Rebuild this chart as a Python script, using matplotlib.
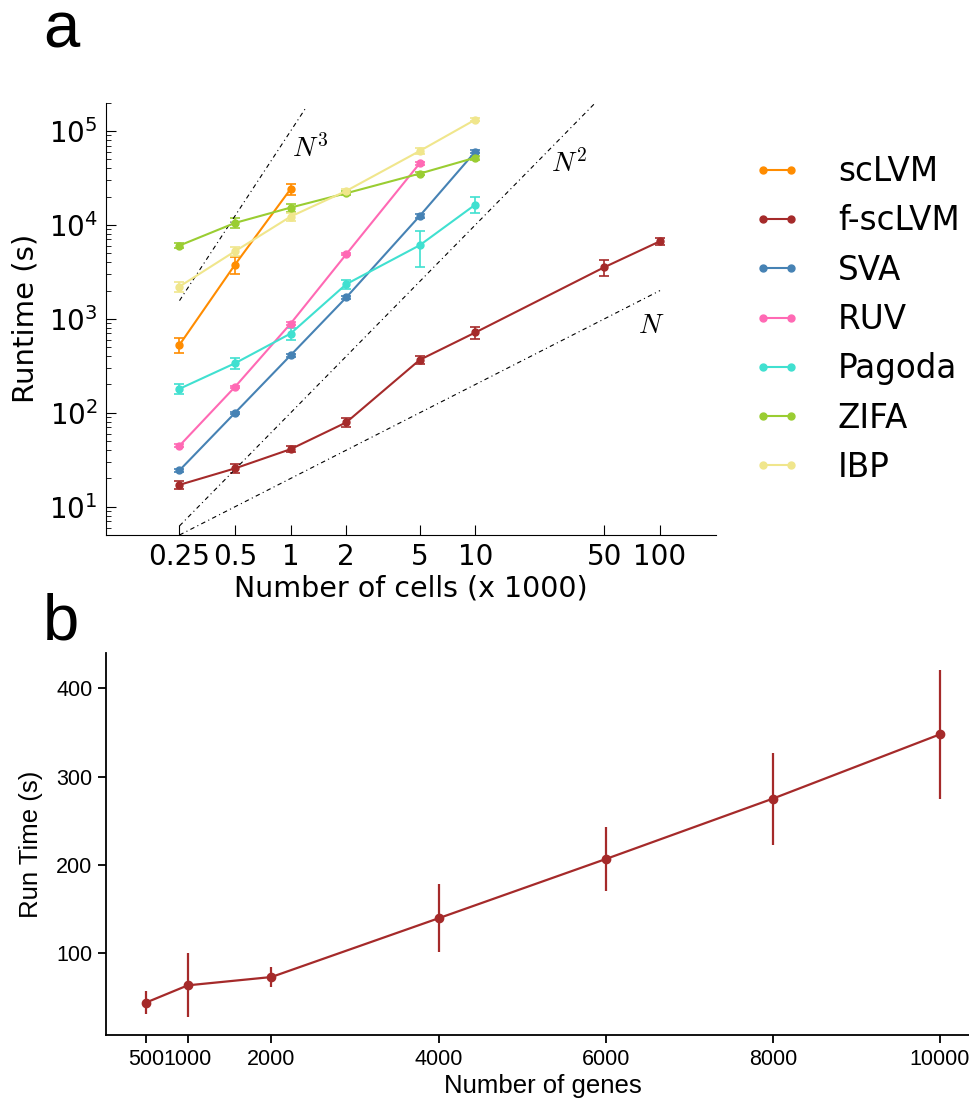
import numpy as np
import matplotlib
matplotlib.use("Agg")
from matplotlib import pyplot as plt
from matplotlib.lines import Line2D

# panel a: runtime vs number of cells (x 1000)
cells = [0.25, 0.5, 1, 2, 5, 10, 50, 100]
methods = ['scLVM', 'f-scLVM', 'SVA', 'RUV', 'Pagoda', 'ZIFA', 'IBP']
colors = ['#ff8c00', '#a52a2a', '#4682b4', '#ff69b4', '#40e0d0', '#9acd32', '#f0e68c']

sclvm = [529, 3785, 24150]
sclvm_err = [95, 750, 3300]
fsclvm = [17.1, 25.6, 41, 79, 366, 716, 3548, 6700]
fsclvm_err = [1.8, 2.9, 3, 8.6, 32, 100, 700, 570]
sva = [24.4, 100, 410, 1690, 12470, 60300]
sva_err = [1, 3, 15, 60, 500, 2000]
ruv = [44.6, 189, 891, 4875, 45300]
ruv_err = [1.5, 6, 30, 150, 1500]
pagoda = [180, 337, 698, 2340, 6075, 16450]
pagoda_err = [20, 45, 100, 250, 2500, 3200]
zifa = [6030, 10500, 15290, 21720, 35170, 52000]
zifa_err = [400, 1300, 1500, 1000, 1500, 2500]
ibp = [2208, 5248, 12270, 23000, 61270, 132000]
ibp_err = [280, 600, 1200, 1000, 4000, 5000]

runtimes = [sclvm, fsclvm, sva, ruv, pagoda, zifa, ibp]
errors = [sclvm_err, fsclvm_err, sva_err, ruv_err, pagoda_err, zifa_err, ibp_err]

# scaling reference lines: (label, coefficient, exponent, x end)
scaling = [('$N^3$', 1e5, 3, 1.22), ('$N^2$', 100, 2, 44.7), ('$N$', 20, 1, 100)]
scaling_label_pos = [(1.02, 6.5e4), (25.7, 4.5e4), (76, 850)]

# panel b: runtime vs number of genes
genes = [500, 1000, 2000, 4000, 6000, 8000, 10000]
gene_rt = [44.4, 63.9, 73.3, 139.8, 206.8, 275.2, 348]
gene_err = [13.3, 36.3, 11.1, 38.4, 36.1, 52, 72.7]

fig = plt.figure(figsize=(9.69, 11.04), dpi=100)

ax = fig.add_axes([0.1094, 0.5154, 0.6291, 0.3916])
handles = []
for name, col, y, e in zip(methods, colors, runtimes, errors):
    x = cells[:len(y)]
    ax.errorbar(x, y, yerr=e, color=col, marker='o', ms=5, lw=1.5,
                capsize=3.5, elinewidth=1.2, capthick=1.2)
    handles.append(Line2D([], [], color=col, marker='o', ms=5, lw=1.5, label=name))

for lab, c, p, xend in scaling:
    xs = np.array([0.25, xend])
    ax.plot(xs, c * xs ** p, color='k', lw=0.8, ls=(0, (4, 3, 1, 3)))
for (lab, c, p, xend), (tx, ty) in zip(scaling, scaling_label_pos):
    ax.text(tx, ty, lab, fontsize=20, ha='left', va='center', math_fontfamily='cm')

ax.set_xscale('log')
ax.set_yscale('log')
ax.set_xlim(0.1, 200)
ax.set_ylim(5, 2e5)
ax.set_xticks(cells)
ax.set_xticklabels(['0.25', '0.5', '1', '2', '5', '10', '50', '100'])
ax.xaxis.set_minor_locator(matplotlib.ticker.NullLocator())
ax.tick_params(axis='both', which='major', direction='in', length=7, labelsize=20, pad=6)
ax.tick_params(axis='y', which='minor', direction='in', length=3.5)
ax.spines['top'].set_visible(False)
ax.spines['right'].set_visible(False)
ax.set_xlabel('Number of cells (x 1000)', fontsize=20.5, labelpad=2)
ax.set_ylabel('Runtime (s)', fontsize=21)
ax.yaxis.set_label_coords(-0.109, 0.5)
ax.legend(handles=handles, loc='upper left', bbox_to_anchor=(753 / 969, 1 - 155 / 1104),
          bbox_transform=fig.transFigure, frameon=False, fontsize=23.5,
          numpoints=2, handlelength=1.45, handletextpad=1.15,
          labelspacing=0.5, borderpad=0, borderaxespad=0)

# panel b
ax2 = fig.add_axes([0.1097, 0.0625, 0.9013, 0.3463])
ax2.errorbar(genes, gene_rt, yerr=gene_err, color='#a52a2a', marker='o', ms=6,
             lw=1.6, elinewidth=1.6, capsize=0)
ax2.set_xlim(25, 10475)
ax2.set_ylim(7.7, 440.4)
ax2.set_xticks(genes)
ax2.set_yticks([100, 200, 300, 400])
ax2.spines['top'].set_visible(False)
ax2.spines['right'].set_visible(False)
for s in ['left', 'bottom']:
    ax2.spines[s].set_linewidth(1.3)
ax2.tick_params(direction='out', length=6, width=1.3, labelsize=15.5, pad=4)
for t in ax2.get_xticklabels() + ax2.get_yticklabels():
    t.set_family('Liberation Sans')
ax2.set_xlabel('Number of genes', fontsize=18.5, family='Liberation Sans', labelpad=3)
ax2.set_ylabel('Run Time (s)', fontsize=18.5, family='Liberation Sans')
ax2.yaxis.set_label_coords(-0.0725, 0.5)

fig.text(43 / 969, 1 - 47 / 1104, 'a', fontsize=47, family='Liberation Sans', va='baseline')
fig.text(43 / 969, 1 - 640 / 1104, 'b', fontsize=47, family='Liberation Sans', va='baseline')

fig.savefig('out.png', dpi=100)
